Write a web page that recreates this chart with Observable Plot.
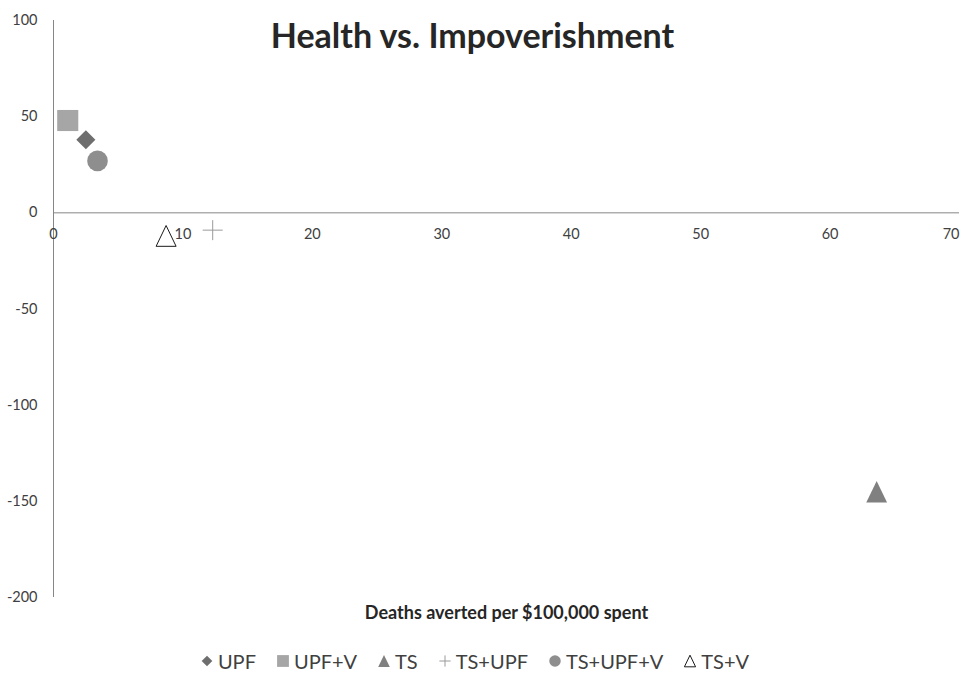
<!DOCTYPE html>
<html><head><meta charset="utf-8">
<script src="https://cdn.jsdelivr.net/npm/d3@7"></script>
<script src="https://cdn.jsdelivr.net/npm/@observablehq/plot@0.6"></script>
<style>
body{margin:0;background:#fff;font-family:Lato,sans-serif}
#wrap{position:relative;width:968px;height:676px;overflow:hidden;background:#fff}
#chart{position:absolute;left:0;top:0}
#title{position:absolute;left:0;width:945px;top:16px;text-align:center;font-weight:700;font-size:34px;line-height:38px;color:#262626}
#legend{position:absolute;left:0;width:949px;top:649px;display:flex;justify-content:center;align-items:center;font-size:20px;line-height:24px;color:#404040}
.item{display:flex;align-items:center;margin:0 10px}
.item svg{margin-right:4px}
</style></head>
<body><div id="wrap"><div id="chart"></div><div id="title">Health vs. Impoverishment</div><div id="legend"></div></div>
<script>
// ---- data ----
const series = ["UPF", "UPF+V", "TS", "TS+UPF", "TS+UPF+V", "TS+V"];
const deathsAverted = [2.5, 1.1, 63.6, 12.3, 3.4, 8.7];
const impoverishment = [38, 48, -145, -9, 27, -12];
const xTicks = [0, 10, 20, 30, 40, 50, 60, 70];
const yTicks = [-200, -150, -100, -50, 0, 50, 100];
const xLabel = "Deaths averted per $100,000 spent";

// ---- styles ----
const triSym = {draw(ctx, size) { const r = Math.sqrt(size / Math.PI); const h = r * 1.04; ctx.moveTo(0, -h); ctx.lineTo(r, h); ctx.lineTo(-r, h); ctx.closePath(); }};
const plusSym = {draw(ctx, size) { const r = Math.sqrt(size / Math.PI); ctx.moveTo(-r, 0); ctx.lineTo(r, 0); ctx.moveTo(0, -r); ctx.lineTo(0, r); }};
const styles = {
  "UPF":      {symbol: "diamond2", r: 8.6, fill: "#6e6e6e", stroke: "none"},
  "UPF+V":    {symbol: "square", r: 11.9, fill: "#a6a6a6", stroke: "none"},
  "TS":       {symbol: triSym, r: 10.4, fill: "#808080", stroke: "none"},
  "TS+UPF":   {symbol: plusSym, r: 10, fill: "none", stroke: "#9a9a9a"},
  "TS+UPF+V": {symbol: "circle", r: 10.3, fill: "#8e8e8e", stroke: "none"},
  "TS+V":     {symbol: triSym, r: 10, fill: "#fff", stroke: "#1a1a1a"}
};
const table = series.map((s, i) => ({series: s, x: deathsAverted[i], y: impoverishment[i]}));

const chart = Plot.plot({
  width: 968, height: 640,
  marginTop: 20, marginBottom: 43, marginLeft: 53, marginRight: 9,
  style: {fontFamily: "Lato, sans-serif", background: "#fff"},
  x: {domain: [0, 70], axis: null},
  y: {domain: [-200, 100], axis: null},
  marks: [
    Plot.ruleX([0], {stroke: "#868686", strokeWidth: 1}),
    Plot.ruleY([0], {stroke: "#868686", strokeWidth: 1}),
    Plot.axisY(yTicks, {tickSize: 0, tickPadding: 16, fontSize: 14.5, fill: "#404040", label: null, tickFormat: d => String(d)}),
    Plot.text(xTicks.slice(0, -1), {x: d => d, y: 0, dy: 22, fontSize: 14.5, fill: "#404040", text: d => String(d)}),
    Plot.text(xTicks.slice(-1), {x: d => d, y: 0, dy: 22, fontSize: 14.5, fill: "#404040", textAnchor: "end", text: d => String(d)}),
    ...series.map(s => Plot.dot(table.filter(d => d.series === s), {x: "x", y: "y", ...styles[s], strokeWidth: 1})),
    Plot.text([xLabel], {frameAnchor: "bottom", dy: 21, fontSize: 18, fontWeight: "bold", fill: "#262626"})
  ]
});
document.getElementById("chart").appendChild(chart);

// legend
const leg = document.getElementById("legend");
series.forEach(s => {
  const st = styles[s];
  const item = document.createElement("div");
  item.className = "item";
  const svg = d3.create("svg").attr("width", 14).attr("height", 14).attr("viewBox", "-7 -7 14 14");
  const symType = st.symbol === "diamond2" ? d3.symbolDiamond2 : st.symbol === "square" ? d3.symbolSquare : st.symbol === "circle" ? d3.symbolCircle : st.symbol;
  const rr = st.r * 0.56;
  svg.append("path").attr("d", d3.symbol(symType, Math.PI * rr * rr)()).attr("fill", st.fill).attr("stroke", st.stroke).attr("stroke-width", 1);
  item.appendChild(svg.node());
  const t = document.createElement("span");
  t.textContent = s;
  item.appendChild(t);
  leg.appendChild(item);
});
</script></body></html>
